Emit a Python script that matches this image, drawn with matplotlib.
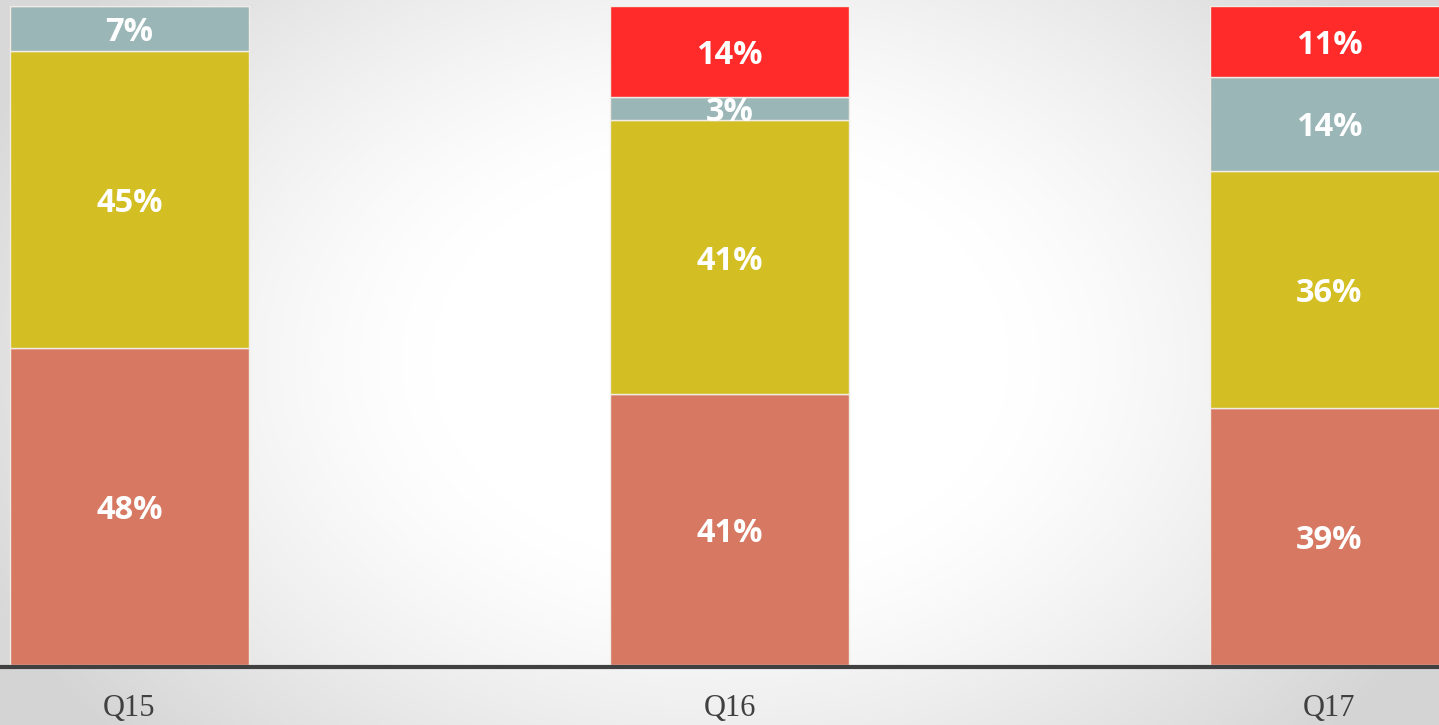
import numpy as np
import matplotlib.pyplot as plt

categories = ['Q15', 'Q16', 'Q17']
# segment heights (bottom to top)
seg_salmon = [48.1, 41.1, 39.0]
seg_yellow = [45.1, 41.6, 36.0]
seg_gray = [6.8, 3.5, 14.2]
seg_red = [0.0, 13.8, 10.8]
lab_salmon = ['48%', '41%', '39%']
lab_yellow = ['45%', '41%', '36%']
lab_gray = ['7%', '3%', '14%']
lab_red = ['', '14%', '11%']

colors = ['#D67862', '#D3BF24', '#9BB6B6', '#FF2A2A']

W, H = 1439, 725
fig = plt.figure(figsize=(W / 100, H / 100), dpi=100)

# slide background: radial gradient, white centre, grey edges
bg = fig.add_axes([0, 0, 1, 1])
yy, xx = np.mgrid[0:H, 0:W]
r = np.sqrt(((xx - 720) / 720.0) ** 2 + ((yy - 360) / 520.0) ** 2)
v = 255 - 31 * np.clip((r - 0.4) / 0.6, 0, None) ** 1.3
v = np.clip(v, 216, 255)
v[669:, :] -= 4
img = np.dstack([v, v, v]) / 255.0
bg.imshow(img, aspect='auto', extent=[0, W, H, 0])
bg.axis('off')

ax = fig.add_axes([0, 60 / H, 1, 659 / H])
ax.patch.set_alpha(0)
x = np.arange(len(categories))
width = 0.398

bottom = np.zeros(len(categories))
for vals, labs, c in zip([seg_salmon, seg_yellow, seg_gray, seg_red],
                         [lab_salmon, lab_yellow, lab_gray, lab_red], colors):
    bars = ax.bar(x, vals, width, bottom=bottom, color=c,
                  edgecolor='#F2ECE6', linewidth=1)
    for b, val, lab in zip(bars, vals, labs):
        if val > 0:
            ax.text(b.get_x() + b.get_width() / 2, b.get_y() + val / 2, lab,
                    ha='center', va='center_baseline', color='white',
                    fontsize=23.5, fontweight='bold', family='Open Sans')
    bottom += np.array(vals)

ax.set_xlim(-0.2158, 2.1825)
ax.set_ylim(0, 100)
for s in ['top', 'left', 'right']:
    ax.spines[s].set_visible(False)
ax.spines['bottom'].set_color('#404040')
ax.spines['bottom'].set_linewidth(3)
ax.spines['bottom'].set_position(('outward', 1.5))
ax.set_yticks([])
ax.set_xticks([])
for xi, cat in zip(x, categories):
    ax.text(xi, -0.066, cat, transform=ax.get_xaxis_transform(),
            ha='center', va='center', fontsize=22, color='#404040',
            family='Liberation Serif')

fig.savefig('out.png', dpi=100)
